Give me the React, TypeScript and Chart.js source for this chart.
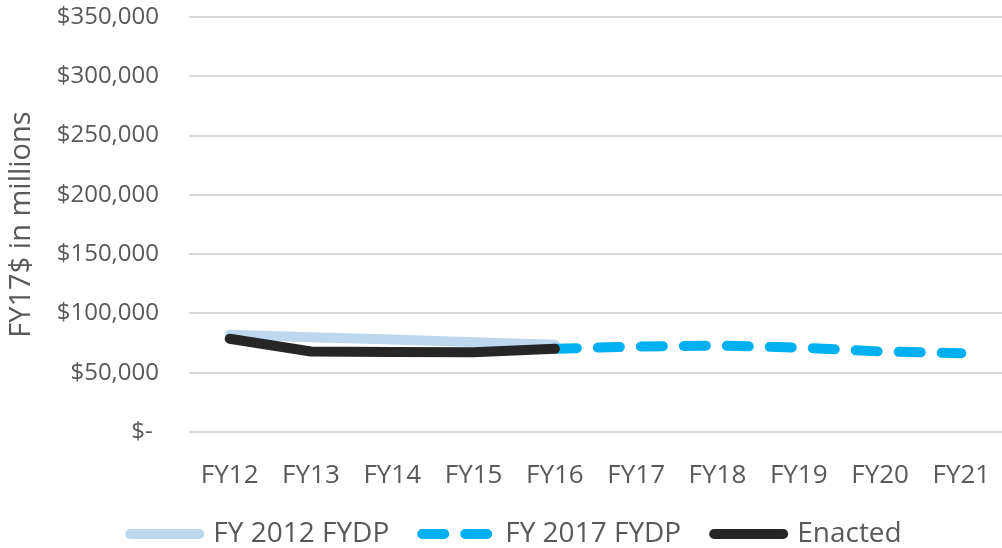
import React, { useEffect, useRef } from "react";
import { Chart, registerables } from "chart.js";

Chart.register(...registerables);

const categories = ["FY12", "FY13", "FY14", "FY15", "FY16", "FY17", "FY18", "FY19", "FY20", "FY21"];
const fy2012Fydp = [82000, 80000, 78000, 75800, 73500, null, null, null, null, null];
const fy2017Fydp = [null, null, null, null, 70200, 72100, 72900, 71200, 67900, 66500];
const enacted = [78600, 67900, 67500, 67300, 70200, null, null, null, null, null];
const seriesNames = ["FY 2012 FYDP", "FY 2017 FYDP", "Enacted"];
const seriesColors = ["#BDD7EE", "#00B0F0", "#262626"];
const yTickMin = 0;
const yTickMax = 350000;
const yTickStep = 50000;
const yAxisTitle = "FY17$ in millions";

const FONT = "'Open Sans', sans-serif";
const TEXT = "#595959";

const legendShift = {
  id: "legendShift",
  afterLayout(chart: any) {
    if (chart.legend) {
      chart.legend.left += 12;
      chart.legend.right += 12;
      chart.legend.top += 3;
      chart.legend.bottom += 3;
    }
  },
};

const zeroPadding = (s: any) => {
  s.paddingTop = 0;
  s.paddingBottom = 0;
  s.paddingLeft = 0;
  s.paddingRight = 0;
};

export default function App() {
  const ref = useRef<HTMLCanvasElement>(null);
  useEffect(() => {
    const fmt = (v: number) => (v === 0 ? "$- " : "$" + v.toLocaleString("en-US"));
    const chart = new Chart(ref.current as HTMLCanvasElement, {
      type: "line",
      data: {
        labels: categories,
        datasets: [
          {
            label: seriesNames[0],
            data: fy2012Fydp,
            borderColor: seriesColors[0],
            backgroundColor: seriesColors[0],
            borderWidth: 10,
            borderCapStyle: "round",
            borderJoinStyle: "round",
            pointRadius: 0,
            pointHoverRadius: 0,
            tension: 0,
            order: 2,
          },
          {
            label: seriesNames[1],
            data: fy2017Fydp,
            borderColor: seriesColors[1],
            backgroundColor: seriesColors[1],
            borderWidth: 10,
            borderDash: [22, 21],
            borderCapStyle: "round",
            borderJoinStyle: "round",
            pointRadius: 0,
            pointHoverRadius: 0,
            tension: 0,
            order: 1,
          },
          {
            label: seriesNames[2],
            data: enacted,
            borderColor: seriesColors[2],
            backgroundColor: seriesColors[2],
            borderWidth: 10,
            borderCapStyle: "round",
            borderJoinStyle: "round",
            pointRadius: 0,
            pointHoverRadius: 0,
            tension: 0,
            order: 0,
          },
        ],
      },
      options: {
        animation: false,
        responsive: true,
        maintainAspectRatio: false,
        layout: { padding: { top: 17, left: 0, right: -6, bottom: -7 } },
        plugins: {
          tooltip: { enabled: false },
          legend: {
            position: "bottom",
            labels: {
              usePointStyle: true,
              pointStyleWidth: 69,
              padding: 33,
              color: TEXT,
              font: { family: FONT, size: 28 },
              generateLabels: (c: any) =>
                c.data.datasets.map((ds: any, i: number) => ({
                  text: ds.label,
                  fillStyle: "rgba(0,0,0,0)",
                  strokeStyle: ds.borderColor,
                  lineWidth: ds.borderWidth,
                  lineDash: ds.borderDash || [],
                  lineDashOffset: 0,
                  lineCap: "round",
                  lineJoin: "round",
                  pointStyle: "line",
                  hidden: false,
                  datasetIndex: i,
                  fontColor: TEXT,
                })),
            },
          },
        },
        scales: {
          x: {
            offset: true,
            grid: { display: false, drawTicks: false },
            border: { display: false },
            ticks: {
              color: TEXT,
              font: { family: FONT, size: 26 },
              padding: 28,
              maxRotation: 0,
              autoSkip: false,
            },
            afterFit: (s: any) => {
              s.height = 52;
              zeroPadding(s);
            },
          },
          y: {
            min: yTickMin,
            max: yTickMax,
            grid: { color: "#d9d9d9", lineWidth: 2, drawTicks: false },
            border: { display: false },
            ticks: {
              stepSize: yTickStep,
              color: TEXT,
              font: { family: FONT, size: 24 },
              padding: 30,
              callback: (v: any) => fmt(Number(v)),
            },
            title: {
              display: true,
              text: yAxisTitle,
              color: TEXT,
              font: { family: FONT, size: 29, weight: "normal" },
              padding: { top: 4, bottom: 0 },
            },
            afterFit: (s: any) => {
              s.width = 189;
              zeroPadding(s);
            },
          },
        },
      },
      plugins: [legendShift],
    } as any);
    return () => chart.destroy();
  }, []);
  return (
    <div style={{ position: "fixed", left: 0, top: 0, width: 1002, height: 548 }}>
      <canvas ref={ref} />
    </div>
  );
}
